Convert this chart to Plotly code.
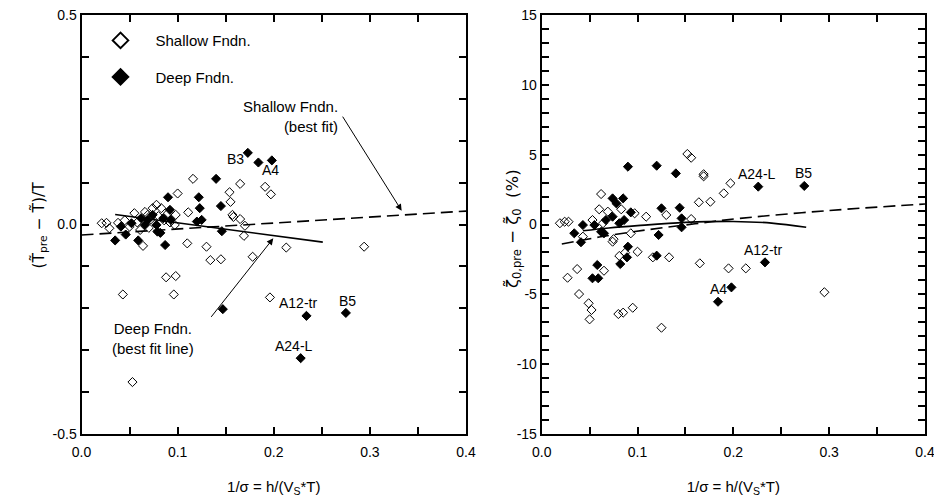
import plotly.graph_objects as go

# ---------------- data: left panel (period) ----------------
L_shallow_x = [0.021, 0.026, 0.029, 0.038, 0.045, 0.050, 0.055, 0.058, 0.061, 0.064, 0.066, 0.069, 0.070,
               0.072, 0.074, 0.078, 0.080, 0.083, 0.086, 0.090, 0.092, 0.097, 0.098, 0.100, 0.111, 0.116,
               0.110, 0.130, 0.134, 0.145, 0.154, 0.155, 0.157, 0.158, 0.165, 0.165, 0.170, 0.169, 0.178,
               0.191, 0.197, 0.213, 0.294, 0.088, 0.098, 0.096, 0.043, 0.196, 0.053]
L_shallow_y = [0.003, 0.004, -0.009, 0.004, 0.010, -0.005, 0.027, 0.005, -0.013, -0.051, 0.030, 0.023, -0.008,
               0.012, 0.039, 0.047, 0.020, 0.039, 0.010, 0.027, 0.005, -0.001, 0.023, 0.074, 0.029, 0.109,
               -0.045, -0.053, -0.085, -0.083, 0.077, 0.054, 0.023, 0.018, 0.013, 0.097, -0.003, -0.027, -0.077,
               0.090, 0.072, -0.055, -0.053, -0.126, -0.123, -0.167, -0.167, -0.174, -0.376]
L_deep_x = [0.035, 0.046, 0.059, 0.087, 0.082, 0.079, 0.041, 0.052, 0.062, 0.066, 0.069, 0.074, 0.078,
            0.085, 0.092, 0.093, 0.090, 0.122, 0.123, 0.145, 0.120, 0.125, 0.146, 0.140, 0.173, 0.184,
            0.198, 0.147, 0.234, 0.275, 0.228]
L_deep_y = [-0.038, -0.024, -0.038, -0.049, -0.020, -0.017, -0.005, 0.003, 0.015, -0.001, 0.011, 0.023, -0.001,
            0.015, 0.035, 0.011, 0.065, 0.065, 0.039, 0.044, 0.007, 0.011, -0.016, 0.109, 0.171, 0.148,
            0.153, -0.202, -0.218, -0.211, -0.319]
L_fit_shallow_x = [0.0, 0.4]
L_fit_shallow_y = [-0.025, 0.032]
L_fit_deep_x = [0.035, 0.251]
L_fit_deep_y = [0.024, -0.042]

# ---------------- data: right panel (damping) ----------------
R_shallow_x = [0.019, 0.024, 0.028, 0.062, 0.060, 0.069, 0.083, 0.053, 0.064, 0.043, 0.074, 0.075, 0.093,
               0.097, 0.109, 0.130, 0.156, 0.152, 0.156, 0.169, 0.169, 0.197, 0.190, 0.176, 0.164,
               0.027, 0.037, 0.039, 0.049, 0.052, 0.050, 0.065, 0.080, 0.085, 0.095, 0.081, 0.087, 0.100,
               0.116, 0.133, 0.165, 0.195, 0.213, 0.125, 0.295]
R_shallow_y = [0.09, 0.20, 0.20, 2.18, 1.09, 0.92, 1.09, 0.32, 0.09, -0.87, -1.23, -1.05, -0.63,
               0.80, 0.56, 0.68, 0.39, 5.05, 4.78, 3.60, 3.45, 2.95, 2.23, 1.63, 1.59,
               -3.81, -3.19, -4.98, -5.64, -6.12, -6.79, -3.31, -6.41, -6.31, -5.96, -2.25, -2.02, -1.95,
               -2.35, -2.35, -2.78, -3.14, -3.14, -7.39, -4.85]
R_deep_x = [0.090, 0.120, 0.140, 0.226, 0.274, 0.074, 0.085, 0.078, 0.093, 0.125, 0.144, 0.146, 0.146,
            0.122, 0.034, 0.041, 0.043, 0.055, 0.062, 0.067, 0.074, 0.081, 0.086, 0.065, 0.090,
            0.058, 0.053, 0.059, 0.082, 0.089, 0.120, 0.233, 0.184, 0.198]
R_deep_y = [4.14, 4.21, 3.66, 2.71, 2.76, 1.87, 1.87, 1.51, 0.87, 1.16, 1.20, 0.44, -0.20,
            -0.75, -0.63, -1.27, -0.04, -0.04, -0.52, 0.32, 0.56, 0.09, 0.32, -0.63, -1.59,
            -2.90, -3.85, -3.85, -2.83, -2.35, -2.23, -2.71, -5.53, -4.50]
R_fit_shallow_x = [0.021, 0.06, 0.109, 0.16, 0.207, 0.30, 0.4]
R_fit_shallow_y = [-1.40, -0.90, -0.39, 0.05, 0.44, 1.00, 1.47]
R_fit_deep_x = [0.043, 0.07, 0.10, 0.15, 0.20, 0.24, 0.276]
R_fit_deep_y = [-0.45, -0.25, -0.08, 0.15, 0.22, 0.10, -0.20]

# tick labels
X_tickvals = [0.0, 0.1, 0.2, 0.3, 0.4]
X_ticktext = ["0.0", "0.1", "0.2", "0.3", "0.4"]
L_tickvals = [-0.5, 0.0, 0.5]
L_ticktext = ["-0.5", "0.0", "0.5"]
R_tickvals = [-15, -10, -5, 0, 5, 10, 15]
R_ticktext = ["-15", "-10", "-5", "0", "5", "10", "15"]

# labels
L_lab_text = ["B3", "A4", "A12-tr", "B5", "A24-L"]
L_lab_x = [0.160, 0.197, 0.2255, 0.2765, 0.221]
L_lab_y = [0.156, 0.130, -0.188, -0.183, -0.290]
R_lab_text = ["A24-L", "B5", "A12-tr", "A4"]
R_lab_x = [0.2243, 0.273, 0.231, 0.185]
R_lab_y = [3.59, 3.66, -1.83, -4.62]

FONT = "Liberation Sans, Arial, sans-serif"
TFONT = "DejaVu Sans, sans-serif"
MS = 7

fig = go.Figure()

def add_points(xs, ys, xa, ya, filled, name, show):
    fig.add_trace(go.Scatter(
        x=xs, y=ys, mode="markers", xaxis=xa, yaxis=ya, name=name,
        showlegend=show, legendgroup=name,
        marker=dict(symbol="diamond" if filled else "diamond-open", size=MS, color="black",
                    line=dict(color="black", width=1))))

add_points(L_shallow_x, L_shallow_y, "x", "y", False, "Shallow Fndn.", True)
add_points(L_deep_x, L_deep_y, "x", "y", True, "Deep Fndn.", True)
add_points(R_shallow_x, R_shallow_y, "x2", "y2", False, "Shallow Fndn.", False)
add_points(R_deep_x, R_deep_y, "x2", "y2", True, "Deep Fndn.", False)

for xs, ys, xa, ya, dash in [
    (L_fit_shallow_x, L_fit_shallow_y, "x", "y", "12px,6px"),
    (L_fit_deep_x, L_fit_deep_y, "x", "y", "solid"),
    (R_fit_shallow_x, R_fit_shallow_y, "x2", "y2", "12px,6px"),
    (R_fit_deep_x, R_fit_deep_y, "x2", "y2", "solid"),
]:
    fig.add_trace(go.Scatter(x=xs, y=ys, mode="lines", xaxis=xa, yaxis=ya, showlegend=False,
                             line=dict(color="black", width=1.6, dash=dash, shape="spline"),
                             hoverinfo="skip"))

ann = []
for t, x, y in zip(L_lab_text, L_lab_x, L_lab_y):
    ann.append(dict(text=t, x=x, y=y, xref="x", yref="y", showarrow=False,
                    font=dict(size=14, family=FONT, color="black")))
for t, x, y in zip(R_lab_text, R_lab_x, R_lab_y):
    ann.append(dict(text=t, x=x, y=y, xref="x2", yref="y2", showarrow=False,
                    font=dict(size=14, family=FONT, color="black")))

# fit-line callouts
ann.append(dict(text="Shallow Fndn.<br>(best fit)", x=0.269, y=0.257, xref="x", yref="y",
                xanchor="right", align="right", showarrow=False,
                font=dict(size=15, family=FONT, color="black")))
ann.append(dict(text="", x=0.333, y=0.033, ax=0.2707, ay=0.261, xref="x", yref="y",
                axref="x", ayref="y", showarrow=True, arrowhead=2, arrowsize=1.3,
                arrowwidth=1, arrowcolor="black"))
ann.append(dict(text="Deep Fndn.<br>(best fit line)", x=0.0744, y=-0.271, xref="x", yref="y",
                align="center", showarrow=False,
                font=dict(size=15, family=FONT, color="black")))
ann.append(dict(text="", x=0.1995, y=-0.033, ax=0.1337, ay=-0.224, xref="x", yref="y",
                axref="x", ayref="y", showarrow=True, arrowhead=2, arrowsize=1.3,
                arrowwidth=1, arrowcolor="black"))

# y-axis titles
ann.append(dict(text="(T\u0303<sub>pre</sub> \u2212 T\u0303)/T", x=0.0203, y=0.556,
                xref="paper", yref="paper", textangle=-90, showarrow=False,
                font=dict(size=15.5, family=TFONT, color="black")))
ann.append(dict(text="\u03b6\u0303<sub>0,pre</sub> \u2212 \u03b6\u0303<sub>0</sub>  (%)", x=0.5407, y=0.548,
                xref="paper", yref="paper", textangle=-90, showarrow=False,
                font=dict(size=16.5, family=TFONT, color="black")))

axis_common = dict(showline=True, linecolor="black", linewidth=2, mirror="ticks",
                   ticks="inside", ticklen=7, tickwidth=1.5, tickcolor="black",
                   showgrid=False, zeroline=False, automargin=False,
                   ticklabeloverflow="allow",
                   tickfont=dict(size=14, family=FONT, color="black"))
minor_common = dict(ticks="inside", ticklen=7, tickcolor="black", tickwidth=1.5)

xtitle = "1/σ = h/(V<sub>S</sub>*T)"
fig.update_layout(
    width=934, height=489,
    margin=dict(l=0, r=0, t=0, b=0, autoexpand=False),
    paper_bgcolor="white", plot_bgcolor="white",
    font=dict(family=FONT, color="black"),
    annotations=ann,
    legend=dict(x=0.083, y=0.967, xanchor="left", yanchor="top", itemsizing="constant",
                traceorder="grouped", tracegroupgap=14, itemwidth=60,
                font=dict(size=15, family=FONT, color="black"), bgcolor="rgba(0,0,0,0)"),
    xaxis=dict(domain=[0.0787, 0.4904], range=[0, 0.4], tickvals=X_tickvals, ticktext=X_ticktext,
               minor=dict(dtick=0.05, **minor_common), ticklabelstandoff=4,
               title=dict(text=xtitle, font=dict(size=15, family=FONT), standoff=23),
               anchor="y", **axis_common),
    yaxis=dict(domain=[0.1288, 0.9857], range=[-0.5, 0.5], tickvals=L_tickvals, ticktext=L_ticktext,
               minor=dict(dtick=0.1, **minor_common),
               anchor="x", **axis_common),
    xaxis2=dict(domain=[0.5714, 0.9818], range=[0, 0.4], tickvals=X_tickvals, ticktext=X_ticktext,
                minor=dict(dtick=0.05, **minor_common), ticklabelstandoff=4,
                title=dict(text=xtitle, font=dict(size=15, family=FONT), standoff=23),
                anchor="y2", **axis_common),
    yaxis2=dict(domain=[0.1288, 0.9857], range=[-15, 15], tickvals=R_tickvals, ticktext=R_ticktext,
                minor=dict(dtick=1, **minor_common),
                anchor="x2", **axis_common),
)

fig.write_html("out.html")
